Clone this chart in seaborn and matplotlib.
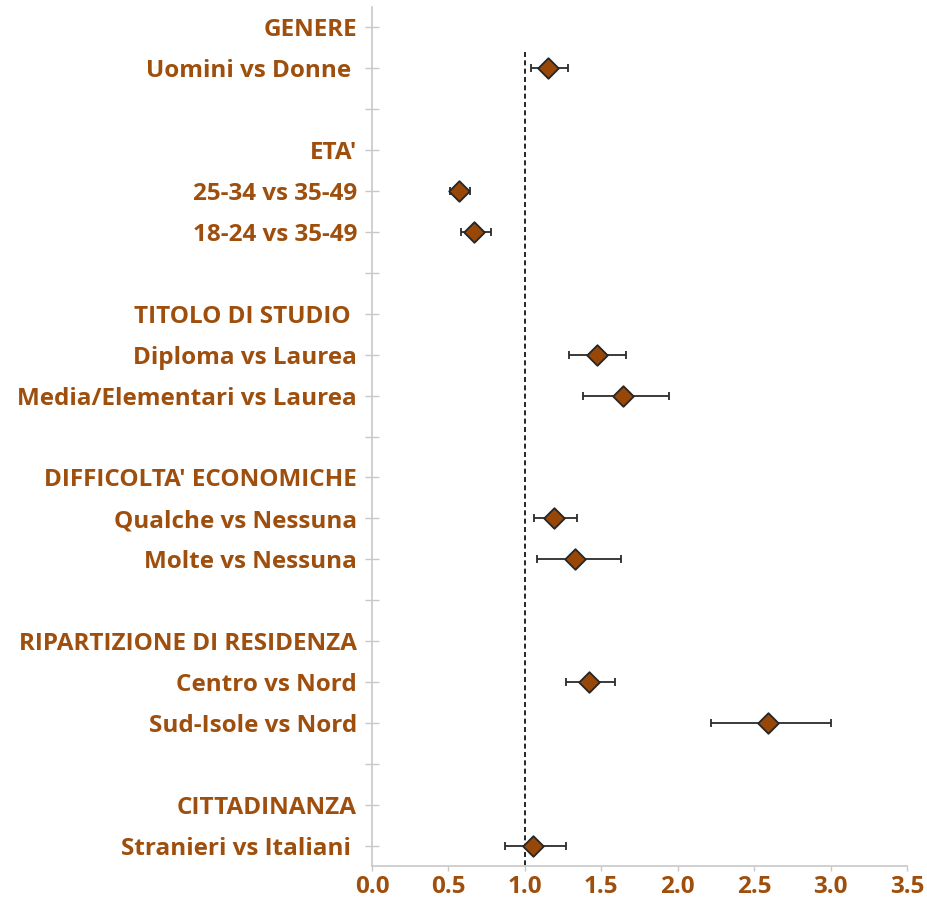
import matplotlib
matplotlib.use("Agg")
import matplotlib.pyplot as plt
import seaborn as sns
import pandas as pd

# Row labels, top to bottom (section headers, comparisons, blank spacer rows)
rows = [
    "GENERE", "Uomini vs Donne ", "",
    "ETA'", "25-34 vs 35-49", "18-24 vs 35-49", "",
    "TITOLO DI STUDIO ", "Diploma vs Laurea", "Media/Elementari vs Laurea", "",
    "DIFFICOLTA' ECONOMICHE", "Qualche vs Nessuna", "Molte vs Nessuna", "",
    "RIPARTIZIONE DI RESIDENZA", "Centro vs Nord", "Sud-Isole vs Nord", "",
    "CITTADINANZA", "Stranieri vs Italiani ",
]

# Odds ratios with 95% confidence limits for each comparison
comparisons = [
    "Uomini vs Donne ", "25-34 vs 35-49", "18-24 vs 35-49",
    "Diploma vs Laurea", "Media/Elementari vs Laurea",
    "Qualche vs Nessuna", "Molte vs Nessuna",
    "Centro vs Nord", "Sud-Isole vs Nord", "Stranieri vs Italiani ",
]
odds_ratio = [1.15, 0.57, 0.67, 1.47, 1.64, 1.19, 1.33, 1.42, 2.59, 1.05]
ci_low = [1.04, 0.51, 0.58, 1.29, 1.38, 1.06, 1.08, 1.27, 2.22, 0.87]
ci_high = [1.28, 0.64, 0.78, 1.66, 1.94, 1.34, 1.63, 1.59, 3.00, 1.27]

x_ticks = [0.0, 0.5, 1.0, 1.5, 2.0, 2.5, 3.0, 3.5]
reference_value = 1.0

brown_text = "#9E4F0D"
brown_marker = "#974808"
axis_grey = "#C8C8C8"

sns.set_theme(style="white")
plt.rcParams["font.family"] = ["Open Sans", "DejaVu Sans"]

df = pd.DataFrame({
    "label": comparisons,
    "or": odds_ratio,
    "low": ci_low,
    "high": ci_high,
})
df["pos"] = [rows.index(c) for c in comparisons]

fig = plt.figure(figsize=(9.28, 9.0), dpi=100)
ax = fig.add_axes([0.4009, 0.0378, 0.5765, 0.9544])

# reference line at OR = 1
ax.vlines(reference_value, 0.6, len(rows) - 0.5, colors="black",
          linestyles=(0, (3, 2)), linewidth=1.2, zorder=1)

# confidence intervals
ax.errorbar(df["or"], df["pos"],
            xerr=[df["or"] - df["low"], df["high"] - df["or"]],
            fmt="none", ecolor="#2b2b2b", elinewidth=1.3,
            capsize=3.2, capthick=1.3, zorder=2)

# point estimates
sns.scatterplot(data=df, x="or", y="pos", marker="D", s=110,
                color=brown_marker, edgecolor="#262626", linewidth=1.3,
                zorder=3, ax=ax, legend=False)

ax.set_xlim(0, 3.5)
ax.set_ylim(len(rows) - 0.5, -0.5)
ax.set_xticks(x_ticks)
ax.set_xticklabels([f"{t:.1f}" for t in x_ticks])
ax.set_yticks(range(len(rows)))
ax.set_yticklabels(rows)
ax.set_xlabel("")
ax.set_ylabel("")

for s in ["top", "right"]:
    ax.spines[s].set_visible(False)
for s in ["left", "bottom"]:
    ax.spines[s].set_color(axis_grey)
    ax.spines[s].set_linewidth(1.2)

ax.tick_params(axis="y", direction="inout", length=9.5, width=1.0,
               color=axis_grey, pad=6, left=True)
ax.tick_params(axis="x", direction="out", length=3.5, width=1.0,
               color=axis_grey, pad=3, bottom=True)

for lab in ax.get_yticklabels() + ax.get_xticklabels():
    lab.set_color(brown_text)
    lab.set_fontweight("bold")
    lab.set_fontsize(17.5)

fig.savefig("out.png", dpi=100, facecolor="white")
